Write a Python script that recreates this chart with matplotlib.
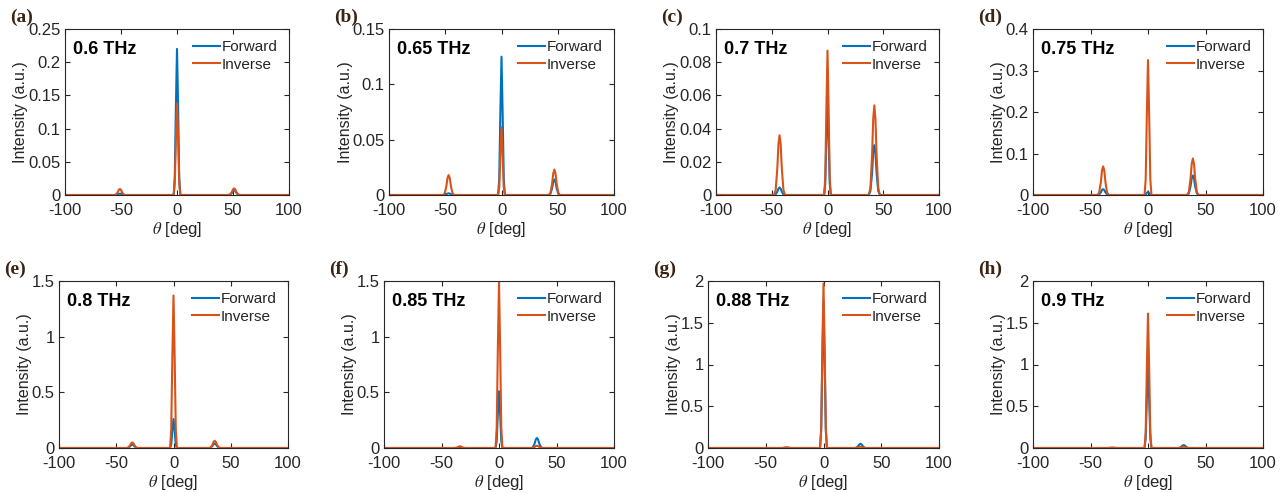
import matplotlib
matplotlib.use("Agg")
import matplotlib.pyplot as plt

plt.rcParams['font.family'] = ['Liberation Sans', 'DejaVu Sans']
plt.rcParams['mathtext.fontset'] = 'stix'

# ---------------- data ----------------
panel_labels = ['(a)', '(b)', '(c)', '(d)', '(e)', '(f)', '(g)', '(h)']
freq_labels = ['0.6 THz', '0.65 THz', '0.7 THz', '0.75 THz',
               '0.8 THz', '0.85 THz', '0.88 THz', '0.9 THz']
series_names = ['Forward', 'Inverse']

theta_a = [-100, -56, -54.5, -53, -52, -51, -50, -49, -47.5, -46,
           -3, -2, -1, 0, 1, 2, 3,
           46, 47.5, 49, 50, 51, 52, 53, 54.5, 56, 100]
fwd_a = [0, 0, 0.0002, 0.0009, 0.0017, 0.002, 0.0017, 0.0009, 0.0002, 0,
         0, 0.026, 0.132, 0.22, 0.132, 0.026, 0,
         0, 0.0006, 0.0032, 0.006, 0.007, 0.006, 0.0032, 0.0006, 0, 0]
inv_a = [0, 0, 0.0007, 0.004, 0.0077, 0.009, 0.0077, 0.004, 0.0007, 0,
         0, 0.017, 0.083, 0.138, 0.083, 0.017, 0,
         0, 0.0008, 0.0045, 0.0085, 0.010, 0.0085, 0.0045, 0.0008, 0, 0]

theta_b = [-100, -52, -50.5, -49, -48, -47, -46, -45, -43.5, -42,
           -3, -2, -1, 0, 1, 2, 3,
           42, 43.5, 45, 46, 47, 48, 49, 50.5, 52, 100]
fwd_b = [0, 0, 0.0001, 0.0007, 0.0013, 0.0015, 0.0013, 0.0007, 0.0001, 0,
         0, 0.015, 0.075, 0.125, 0.075, 0.015, 0,
         0, 0.0011, 0.0063, 0.0119, 0.014, 0.0119, 0.0063, 0.0011, 0, 0]
inv_b = [0, 0, 0.0014, 0.0081, 0.0153, 0.018, 0.0153, 0.0081, 0.0014, 0,
         0, 0.0073, 0.0366, 0.061, 0.0366, 0.0073, 0,
         0, 0.0018, 0.0104, 0.0196, 0.023, 0.0196, 0.0104, 0.0018, 0, 0]

theta_c = [-100, -48, -46.5, -45, -44, -43, -42, -41, -39.5, -38,
           -3, -2, -1, 0, 1, 2, 3,
           37, 38.5, 40, 41, 42, 43, 44, 45.5, 47, 100]
fwd_c = [0, 0, 0.0004, 0.002, 0.0038, 0.0045, 0.0038, 0.002, 0.0004, 0,
         0, 0.0068, 0.0342, 0.057, 0.0342, 0.0068, 0,
         0, 0.0024, 0.0135, 0.0255, 0.030, 0.0255, 0.0135, 0.0024, 0, 0]
inv_c = [0, 0, 0.0029, 0.0162, 0.0306, 0.036, 0.0306, 0.0162, 0.0029, 0,
         0, 0.0104, 0.0522, 0.087, 0.0522, 0.0104, 0,
         0, 0.0043, 0.0243, 0.0459, 0.054, 0.0459, 0.0243, 0.0043, 0, 0]

theta_d = [-100, -44, -42.5, -41, -40, -39, -38, -37, -35.5, -34,
           -3, -2, -1, 0, 1, 2, 3,
           34, 35.5, 37, 38, 39, 40, 41, 42.5, 44, 100]
fwd_d = [0, 0, 0.0011, 0.0063, 0.0119, 0.014, 0.0119, 0.0063, 0.0011, 0,
         0, 0.001, 0.0048, 0.008, 0.0048, 0.001, 0,
         0, 0.0038, 0.0212, 0.040, 0.047, 0.040, 0.0212, 0.0038, 0, 0]
inv_d = [0, 0, 0.0055, 0.031, 0.0587, 0.069, 0.0587, 0.031, 0.0055, 0,
         0, 0.039, 0.195, 0.325, 0.195, 0.039, 0,
         0, 0.007, 0.0396, 0.0748, 0.088, 0.0748, 0.0396, 0.007, 0, 0]

theta_e = [-100, -41, -39.5, -38, -37, -36, -35, -34, -32.5, -31,
           -3, -2, -1, 0, 1, 2, 3,
           31, 32.5, 34, 35, 36, 37, 38, 39.5, 41, 100]
fwd_e = [0, 0, 0.0024, 0.0135, 0.0255, 0.03, 0.0255, 0.0135, 0.0024, 0,
         0, 0.031, 0.156, 0.26, 0.156, 0.031, 0,
         0, 0.0032, 0.018, 0.034, 0.04, 0.034, 0.018, 0.0032, 0, 0]
inv_e = [0, 0, 0.004, 0.0225, 0.0425, 0.05, 0.0425, 0.0225, 0.004, 0,
         0, 0.164, 0.822, 1.37, 0.822, 0.164, 0,
         0, 0.0052, 0.0293, 0.0553, 0.065, 0.0553, 0.0293, 0.0052, 0, 0]

theta_f = [-100, -39, -37.5, -36, -35, -34, -33, -32, -30.5, -29,
           -3, -2, -1, 0, 1, 2, 3,
           28, 29.5, 31, 32, 33, 34, 35, 36.5, 38, 100]
fwd_f = [0, 0, 0.0003, 0.0018, 0.0034, 0.004, 0.0034, 0.0018, 0.0003, 0,
         0, 0.061, 0.306, 0.51, 0.306, 0.061, 0,
         0, 0.0072, 0.0405, 0.0765, 0.09, 0.0765, 0.0405, 0.0072, 0, 0]
inv_f = [0, 0, 0.0012, 0.0068, 0.0128, 0.015, 0.0128, 0.0068, 0.0012, 0,
         0, 0.179, 0.894, 1.49, 0.894, 0.179, 0,
         0, 0.0016, 0.009, 0.017, 0.02, 0.017, 0.009, 0.0016, 0, 0]

theta_g = [-100, -37, -35.5, -34, -33, -32, -31, -30, -28.5, -27,
           -3, -2, -1, 0, 1, 2, 3,
           27, 28.5, 30, 31, 32, 33, 34, 35.5, 37, 100]
fwd_g = [0, 0, 0.0003, 0.0018, 0.0034, 0.004, 0.0034, 0.0018, 0.0003, 0,
         0, 0.21, 1.05, 1.75, 1.05, 0.21, 0,
         0, 0.004, 0.0225, 0.0425, 0.05, 0.0425, 0.0225, 0.004, 0, 0]
inv_g = [0, 0, 0.0006, 0.0036, 0.0068, 0.008, 0.0068, 0.0036, 0.0006, 0,
         0, 0.236, 1.18, 1.97, 1.18, 0.236, 0,
         0, 0.0012, 0.0068, 0.0128, 0.015, 0.0128, 0.0068, 0.0012, 0, 0]

theta_h = [-100, -36, -34.5, -33, -32, -31, -30, -29, -27.5, -26,
           -3, -2, -1, 0, 1, 2, 3,
           26, 27.5, 29, 30, 31, 32, 33, 34.5, 36, 100]
fwd_h = [0, 0, 0.0002, 0.0009, 0.0017, 0.002, 0.0017, 0.0009, 0.0002, 0,
         0, 0.12, 0.6, 1.0, 0.6, 0.12, 0,
         0, 0.0028, 0.0158, 0.0298, 0.035, 0.0298, 0.0158, 0.0028, 0, 0]
inv_h = [0, 0, 0.0004, 0.0023, 0.0043, 0.005, 0.0043, 0.0023, 0.0004, 0,
         0, 0.193, 0.966, 1.61, 0.966, 0.193, 0,
         0, 0.0012, 0.0068, 0.0128, 0.015, 0.0128, 0.0068, 0.0012, 0, 0]

x_ticks = [-100, -50, 0, 50, 100]
y_max = [0.25, 0.15, 0.1, 0.4, 1.5, 1.5, 2, 2]
y_ticks = [
    [0, 0.05, 0.1, 0.15, 0.2, 0.25],
    [0, 0.05, 0.1, 0.15],
    [0, 0.02, 0.04, 0.06, 0.08, 0.1],
    [0, 0.1, 0.2, 0.3, 0.4],
    [0, 0.5, 1, 1.5],
    [0, 0.5, 1, 1.5],
    [0, 0.5, 1, 1.5, 2],
    [0, 0.5, 1, 1.5, 2],
]
y_ticklabels = [
    ['0', '0.05', '0.1', '0.15', '0.2', '0.25'],
    ['0', '0.05', '0.1', '0.15'],
    ['0', '0.02', '0.04', '0.06', '0.08', '0.1'],
    ['0', '0.1', '0.2', '0.3', '0.4'],
    ['0', '0.5', '1', '1.5'],
    ['0', '0.5', '1', '1.5'],
    ['0', '0.5', '1', '1.5', '2'],
    ['0', '0.5', '1', '1.5', '2'],
]

thetas = [theta_a, theta_b, theta_c, theta_d, theta_e, theta_f, theta_g, theta_h]
forwards = [fwd_a, fwd_b, fwd_c, fwd_d, fwd_e, fwd_f, fwd_g, fwd_h]
inverses = [inv_a, inv_b, inv_c, inv_d, inv_e, inv_f, inv_g, inv_h]

# ---------------- layout ----------------
W, H = 1288, 493
fig = plt.figure(figsize=(W / 100, H / 100), dpi=100)

# axes boxes in pixels: (left, right, top, bottom)
boxes = [
    (65, 289, 29, 195), (389, 614, 29, 195), (716, 939, 29, 195), (1033, 1263, 29, 195),
    (59, 288, 281, 448), (384, 614, 281, 448), (708, 939, 281, 448), (1033, 1263, 281, 448),
]

BLUE = '#0072BD'
ORANGE = '#D95319'
AXC = '#262626'

for i in range(8):
    l, r, t, b = boxes[i]
    ax = fig.add_axes([l / W, 1 - b / H, (r - l) / W, (b - t) / H])
    ax.plot(thetas[i], forwards[i], color=BLUE, lw=1.5, label=series_names[0])
    ax.plot(thetas[i], inverses[i], color=ORANGE, lw=1.5, label=series_names[1])
    ax.set_xlim(-100, 100)
    ax.set_ylim(0, y_max[i])
    ax.set_xticks(x_ticks)
    ax.set_xticklabels([str(v) for v in x_ticks])
    ax.set_yticks(y_ticks[i])
    ax.set_yticklabels(y_ticklabels[i])
    ax.tick_params(direction='in', top=True, right=True, length=3.5, width=0.8,
                   labelsize=12, colors=AXC)
    ax.tick_params(axis='x', pad=5.5)
    ax.tick_params(axis='y', pad=3)
    for s in ax.spines.values():
        s.set_color(AXC)
        s.set_linewidth(0.8)
    ax.set_xlabel(r'$\theta$ [deg]', fontsize=12, color=AXC, labelpad=2)
    ax.set_ylabel('Intensity (a.u.)', fontsize=11.5, color=AXC, labelpad=0)
    ax.text(0.035, 0.93, freq_labels[i], transform=ax.transAxes, fontsize=13,
            fontweight='bold', va='top', ha='left', color='black')
    leg = ax.legend(loc='upper right', frameon=False, fontsize=11,
                    handlelength=1.75, handletextpad=0.1, labelspacing=0.2,
                    borderaxespad=0.3, borderpad=0.45)
    for txt in leg.get_texts():
        txt.set_color(AXC)
    fig.text((l - 55) / W, 1 - (t - 12) / H, panel_labels[i], fontsize=14,
             fontweight='bold', family='Liberation Serif', color='#3a2414',
             ha='left', va='center')

fig.savefig('out.png', dpi=100)
